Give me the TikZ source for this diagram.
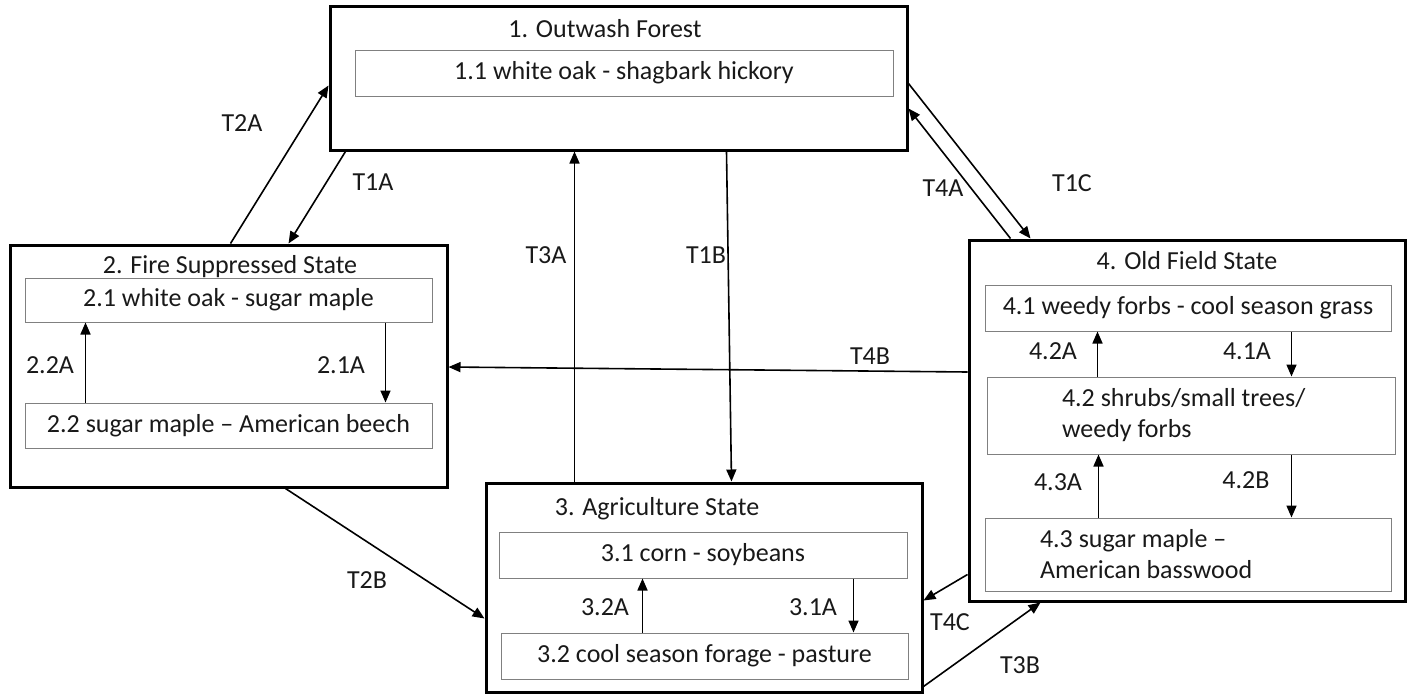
\documentclass[tikz,border=0pt]{standalone}
\usepackage{fontspec}
\setmainfont{Carlito}
\usetikzlibrary{arrows.meta,positioning}
\tikzset{
  font=\fontsize{26}{31}\selectfont,
  state/.style={
    draw,
    line width=3pt,
    inner sep=0pt
  },
  phase/.style={
    draw=black!50,
    line width=1pt,
    align=center,
    inner sep=0pt,
    text=black!90
  },
  title/.style={inner sep=0pt, text=black!90},
  lbl/.style={inner sep=0pt, text=black!90},
  arrow/.style={-{Triangle[width=10pt,length=12pt]}, line width=1.6pt}
}

\begin{document}
\begin{tikzpicture}[x=1pt, y=-1pt]
\useasboundingbox (0,0) rectangle (1414,696);

% States
\node[state, minimum width=577pt, minimum height=144pt] (s1) at (618.5,78) {};
\node[state, minimum width=437pt, minimum height=242pt] (s2) at (228.5,366) {};
\node[state, minimum width=436pt, minimum height=209pt] (s3) at (704,587.5) {};
\node[state, minimum width=436pt, minimum height=361pt] (s4) at (1187,420.5) {};

\node[title] (t1) at (605,29) {1. Outwash Forest};
\node[title] (t2) at (230,267) {2. Fire Suppressed State};
\node[title] (t3) at (657,509) {3. Agriculture State};
\node[title] (t4) at (1187,261) {4. Old Field State};

% Community phases
\node[phase, minimum width=538pt, minimum height=46pt] (p11) at (624,73) {1.1 white oak - shagbark hickory};
\node[phase, minimum width=407pt, minimum height=44pt] (p21) at (228.5,300) {2.1 white oak - sugar maple};
\node[phase, minimum width=407pt, minimum height=45pt] (p22) at (228.5,425.5) {2.2 sugar maple -- American beech};
\node[phase, minimum width=408pt, minimum height=46pt] (p31) at (703,555) {3.1 corn - soybeans};
\node[phase, minimum width=407pt, minimum height=46pt] (p32) at (704.5,656) {3.2 cool season forage - pasture};
\node[phase, minimum width=406pt, minimum height=46pt] (p41) at (1188,308) {4.1 weedy forbs - cool season grass};
\node[phase, minimum width=408pt, minimum height=77pt, text width=258pt, align=flush left] (p42) at (1191,415.5) {4.2 shrubs/small trees/\\weedy forbs};
\node[phase, minimum width=406pt, minimum height=73pt, text width=296pt, align=flush left] (p43) at (1188,554.5) {4.3 sugar maple --\\American basswood};

% Transitions between states
\draw[arrow] ([xshift=222pt]s2.north west) -- ([yshift=-81pt]s1.north west);
\draw[arrow] ([xshift=17pt]s1.south west) -- ([xshift=280pt]s2.north west);
\draw[arrow] ([xshift=90pt]s3.north west) -- ([xshift=246pt]s1.south west);
\draw[arrow] ([xshift=398pt]s1.south west) -- ([xshift=247pt]s3.north west);
\draw[arrow] ([yshift=-79pt]s1.north east) -- ([xshift=63pt]s4.north west);
\draw[arrow] ([xshift=43pt]s4.north west) -- ([yshift=-104pt]s1.north east);
\draw[arrow] ([yshift=48.5pt]s4.west) -- ([yshift=-1pt]s2.east);
\draw[arrow] ([yshift=28pt]s4.south west) -- ([yshift=-119pt]s3.north east);
\draw[arrow] ([yshift=7pt]s3.south east) -- ([xshift=73pt]s4.south west);
\draw[arrow] ([xshift=277pt]s2.south west) -- ([yshift=-137pt]s3.north west);

\node[lbl] (lT2A) at (242,123) {T2A};
\node[lbl] (lT1A) at (373,182) {T1A};
\node[lbl] (lT3A) at (546,255) {T3A};
\node[lbl] (lT1B) at (706,255) {T1B};
\node[lbl] (lT4A) at (943,188) {T4A};
\node[lbl] (lT1C) at (1072,183) {T1C};
\node[lbl] (lT4B) at (870,356) {T4B};
\node[lbl] (lT2B) at (367,580) {T2B};
\node[lbl] (lT4C) at (950,622) {T4C};
\node[lbl] (lT3B) at (1020,665) {T3B};

% Pathways within states
\draw[arrow] ([xshift=61pt]p22.north west) -- ([xshift=61pt]p21.south west);
\draw[arrow] ([xshift=361pt]p21.south west) -- ([xshift=361pt]p22.north west);
\draw[arrow] ([xshift=142pt]p32.north west) -- ([xshift=144pt]p31.south west);
\draw[arrow] ([xshift=355pt]p31.south west) -- ([xshift=353pt]p32.north west);
\draw[arrow] ([xshift=111pt]p42.north west) -- ([xshift=113pt]p41.south west);
\draw[arrow] ([xshift=307pt]p41.south west) -- ([xshift=305pt]p42.north west);
\draw[arrow] ([xshift=114pt]p43.north west) -- ([xshift=112pt]p42.south west);
\draw[arrow] ([xshift=305pt]p42.south west) -- ([xshift=307pt]p43.north west);

\node[lbl] (l22A) at (50,365) {2.2A};
\node[lbl] (l21A) at (341,365) {2.1A};
\node[lbl] (l32A) at (605,607) {3.2A};
\node[lbl] (l31A) at (813,607) {3.1A};
\node[lbl] (l42A) at (1053,351) {4.2A};
\node[lbl] (l41A) at (1247,351) {4.1A};
\node[lbl] (l43A) at (1058,482) {4.3A};
\node[lbl] (l42B) at (1246,480) {4.2B};

\end{tikzpicture}
\end{document}
